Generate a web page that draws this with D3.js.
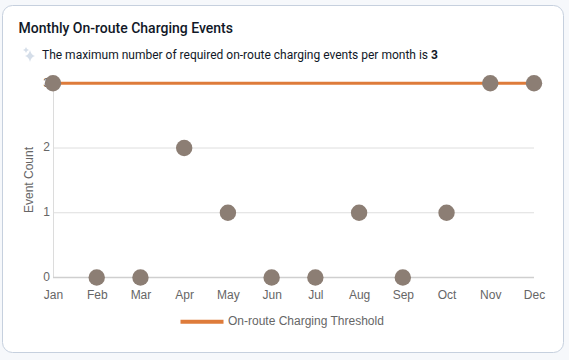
<!DOCTYPE html>
<html>
<head>
<meta charset="utf-8">
<script src="https://cdn.jsdelivr.net/npm/d3@7"></script>
<style>
  html, body { margin: 0; padding: 0; background: #f6f8fb; }
  svg { display: block; }
</style>
</head>
<body>
<svg id="chart" width="569" height="360"></svg>
<script>
const months = ["Jan", "Feb", "Mar", "Apr", "May", "Jun", "Jul", "Aug", "Sep", "Oct", "Nov", "Dec"];
const eventCounts = [3, 0, 0, 2, 1, 0, 0, 1, 0, 1, 3, 3];
const thresholdValues = [3, 3, 3, 3, 3, 3, 3, 3, 3, 3, 3, 3];
const yTicks = [0, 1, 2, 3];

const svg = d3.select("#chart");
const sans = "Roboto, sans-serif";
const axisFont = "'Liberation Sans', Arial, sans-serif";

// card
svg.append("rect")
  .attr("x", 2.5).attr("y", 5.5)
  .attr("width", 561).attr("height", 347)
  .attr("rx", 10)
  .attr("fill", "#fff")
  .attr("stroke", "#c6d0de");

svg.append("text")
  .attr("x", 18.5).attr("y", 33)
  .attr("font-family", sans).attr("font-size", 14).attr("font-weight", 500)
  .attr("fill", "#111827")
  .text("Monthly On-route Charging Events");

// sparkle icon
svg.append("path")
  .attr("d", "M0,-6 Q1,-1 5,0 Q1,1 0,6 Q-1,1 -5,0 Q-1,-1 0,-6Z")
  .attr("transform", "translate(30,56)")
  .attr("fill", "#d5dee9");
svg.append("path")
  .attr("d", "M0,-3 Q.5,-.5 3,0 Q.5,.5 0,3 Q-.5,.5 -3,0 Q-.5,-.5 0,-3Z")
  .attr("transform", "translate(26,50)")
  .attr("fill", "#d5dee9");

const note = svg.append("text")
  .attr("x", 42).attr("y", 59)
  .attr("font-family", sans).attr("font-size", 12)
  .attr("fill", "#111827");
note.append("tspan").text("The maximum number of required on-route charging events per month is ");
note.append("tspan").attr("font-weight", 700).text("3");

const x = d3.scalePoint().domain(months).range([53, 534]);
const y = d3.scaleLinear().domain([0, 3]).range([277.5, 83.25]);

// y axis
const yAxis = svg.append("g")
  .attr("transform", "translate(53,0)")
  .call(d3.axisLeft(y).tickValues(yTicks).tickFormat(d3.format("d")).tickSize(0).tickPadding(3));
yAxis.select(".domain").attr("stroke", "#dcdcdc");
yAxis.selectAll("text")
  .attr("dy", "0.24em")
  .attr("font-family", axisFont).attr("font-size", 12).attr("fill", "#666");

// gridlines
svg.append("g").selectAll("line")
  .data(yTicks)
  .join("line")
  .attr("x1", 53).attr("x2", 534)
  .attr("y1", d => y(d)).attr("y2", d => y(d))
  .attr("stroke", d => d === 0 ? "#cfcfcf" : "#dedede")
  .attr("stroke-width", d => d === 0 ? 1.5 : 1);

// x axis
const xAxis = svg.append("g")
  .attr("transform", "translate(0,277.5)")
  .call(d3.axisBottom(x).tickSize(0).tickPadding(13));
xAxis.select(".domain").remove();
xAxis.selectAll("text")
  .attr("font-family", axisFont).attr("font-size", 12).attr("fill", "#666");

svg.append("text")
  .attr("transform", "translate(33,180) rotate(-90)")
  .attr("text-anchor", "middle")
  .attr("font-family", axisFont).attr("font-size", 12).attr("fill", "#666")
  .text("Event Count");

// threshold line
const line = d3.line()
  .x((d, i) => x(months[i]))
  .y(d => y(d));
svg.append("path")
  .datum(thresholdValues)
  .attr("d", line)
  .attr("fill", "none")
  .attr("stroke", "#de7b3a")
  .attr("stroke-width", 2.8);

// points
svg.append("g").selectAll("circle")
  .data(eventCounts)
  .join("circle")
  .attr("cx", (d, i) => x(months[i]))
  .attr("cy", d => y(d))
  .attr("r", 8.2)
  .attr("fill", "#8c7e74");

// legend
svg.append("line")
  .attr("x1", 180.5).attr("x2", 223.5)
  .attr("y1", 321.8).attr("y2", 321.8)
  .attr("stroke", "#de7b3a").attr("stroke-width", 4);
svg.append("text")
  .attr("x", 228).attr("y", 325)
  .attr("font-family", axisFont).attr("font-size", 12).attr("fill", "#666")
  .text("On-route Charging Threshold");
</script>
</body>
</html>
